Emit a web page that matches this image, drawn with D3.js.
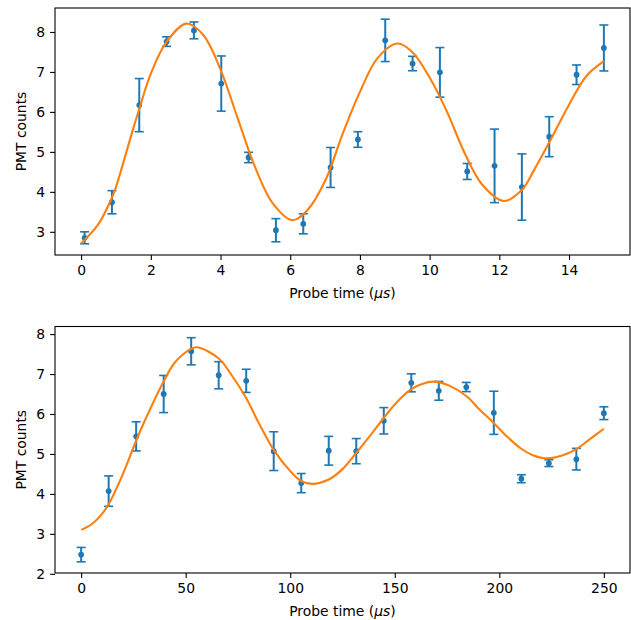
<!DOCTYPE html>
<html><head><meta charset="utf-8">
<script src="https://cdn.jsdelivr.net/npm/d3@7"></script>
<style>body{margin:0;background:#fff}svg{display:block}</style>
</head><body>
<svg id="c" width="631" height="620"></svg>
<script>
// ---- Top panel data ----
const topTimes = [0.1, 0.884, 1.668, 2.453, 3.237, 4.021, 4.805, 5.589, 6.374, 7.158, 7.942, 8.726, 9.511, 10.295, 11.079, 11.863, 12.647, 13.432, 14.216, 15.0];
const topCounts = [2.85, 3.74, 6.17, 7.76, 8.04, 6.71, 4.86, 3.04, 3.2, 4.61, 5.31, 7.79, 7.21, 6.99, 4.51, 4.65, 4.12, 5.38, 6.93, 7.6];
const topErrors = [0.15, 0.29, 0.665, 0.12, 0.21, 0.69, 0.13, 0.29, 0.25, 0.5, 0.195, 0.53, 0.18, 0.62, 0.2, 0.92, 0.83, 0.5, 0.245, 0.575];
const topFitTimes = [0, 0.5, 0.88, 1.0, 1.5, 1.67, 2.0, 2.45, 3.02, 3.5, 4.0, 4.5, 5.0, 5.5, 6.06, 6.5, 7.0, 7.5, 8.0, 8.5, 9.08, 9.5, 10.0, 10.5, 11.0, 11.5, 12.13, 12.65, 13.0, 13.5, 14.0, 14.5, 15.0];
const topFitCounts = [2.71, 3.2, 3.85, 4.12, 5.6, 6.08, 6.96, 7.75, 8.21, 7.93, 7.06, 5.82, 4.6, 3.71, 3.29, 3.55, 4.27, 5.44, 6.5, 7.34, 7.71, 7.5, 6.86, 6.0, 4.98, 4.19, 3.77, 4.05, 4.55, 5.35, 6.18, 6.9, 7.27];
const topXTicks = [0, 2, 4, 6, 8, 10, 12, 14];
const topYTicks = [3, 4, 5, 6, 7, 8];

// ---- Bottom panel data ----
const botTimes = [0, 13.158, 26.316, 39.474, 52.632, 65.789, 78.947, 92.105, 105.263, 118.421, 131.579, 144.737, 157.895, 171.053, 184.211, 197.368, 210.526, 223.684, 236.842, 250];
const botCounts = [2.48, 4.07, 5.44, 6.5, 7.57, 6.97, 6.83, 5.07, 4.27, 5.08, 5.07, 5.83, 6.78, 6.58, 6.675, 6.03, 4.38, 4.77, 4.87, 6.02];
const botErrors = [0.18, 0.38, 0.365, 0.465, 0.34, 0.34, 0.29, 0.485, 0.24, 0.36, 0.315, 0.33, 0.225, 0.235, 0.115, 0.54, 0.1, 0.085, 0.27, 0.16];
const botFitTimes = [0, 5, 10, 13.16, 20, 26.3, 30, 39.5, 45, 52.6, 55.6, 65.8, 72, 78.9, 85, 92.1, 100, 105.3, 110.6, 118.4, 125, 131.6, 140, 144.7, 150, 157.9, 163, 168.5, 176, 184.2, 190, 197.4, 204, 210.5, 216, 223, 230, 236.8, 243, 250];
const botFitCounts = [3.1, 3.24, 3.5, 3.74, 4.5, 5.33, 5.78, 6.82, 7.3, 7.63, 7.67, 7.39, 6.97, 6.4, 5.77, 5.1, 4.57, 4.32, 4.25, 4.36, 4.62, 5.03, 5.58, 5.9, 6.24, 6.62, 6.75, 6.81, 6.71, 6.45, 6.14, 5.77, 5.42, 5.13, 4.97, 4.89, 4.96, 5.12, 5.36, 5.63];
const botXTicks = [0, 50, 100, 150, 200, 250];
const botYTicks = [2, 3, 4, 5, 6, 7, 8];

const BLUE = "#1f77b4", ORANGE = "#ff7f0e";
const FONT = "DejaVu Sans";
const svg = d3.select("#c");

function panel(cfg) {
  const x = d3.scaleLinear().domain(cfg.xDomain).range([55, 630]);
  const y = d3.scaleLinear().domain(cfg.yDomain).range([cfg.bottom, cfg.top]);
  const g = svg.append("g");

  // error bars
  const eb = g.append("g").attr("stroke", BLUE).attr("stroke-width", 2).attr("fill", "none");
  cfg.t.forEach((t, i) => {
    const cx = x(t), lo = y(cfg.v[i] - cfg.e[i]), hi = y(cfg.v[i] + cfg.e[i]);
    eb.append("line").attr("x1", cx).attr("x2", cx).attr("y1", lo).attr("y2", hi);
    eb.append("line").attr("x1", cx - 4.5).attr("x2", cx + 4.5).attr("y1", lo).attr("y2", lo).attr("stroke-width", 1.6);
    eb.append("line").attr("x1", cx - 4.5).attr("x2", cx + 4.5).attr("y1", hi).attr("y2", hi).attr("stroke-width", 1.6);
  });
  g.append("g").selectAll("circle").data(cfg.t).join("circle")
    .attr("cx", d => x(d)).attr("cy", (d, i) => y(cfg.v[i])).attr("r", 2.9).attr("fill", BLUE);

  // fit line
  const line = d3.line().x(d => x(d[0])).y(d => y(d[1])).curve(d3.curveCatmullRom.alpha(0.5));
  g.append("path").datum(cfg.ft.map((t, i) => [t, cfg.fv[i]]))
    .attr("d", line).attr("fill", "none").attr("stroke", ORANGE).attr("stroke-width", 2.1)
    .attr("stroke-linejoin", "round");

  // axes
  const xa = g.append("g").attr("transform", `translate(0,${cfg.bottom})`)
    .call(d3.axisBottom(x).tickValues(cfg.xt).tickSize(4.9).tickPadding(4.9).tickFormat(d3.format("d")));
  const ya = g.append("g").attr("transform", `translate(55,0)`)
    .call(d3.axisLeft(y).tickValues(cfg.yt).tickSize(4.9).tickPadding(4.9).tickFormat(d3.format("d")));
  [xa, ya].forEach(a => {
    a.select(".domain").remove();
    a.selectAll(".tick line").attr("stroke", "#000").attr("stroke-width", 1.1);
    a.selectAll(".tick text").attr("font-family", FONT).attr("font-size", 13.9).attr("fill", "#000");
  });
  // frame
  g.append("rect").attr("x", 55).attr("y", cfg.top).attr("width", 575).attr("height", cfg.bottom - cfg.top)
    .attr("fill", "none").attr("stroke", "#000").attr("stroke-width", 1.1);

  // labels
  const xl = g.append("text").attr("x", (55 + 630) / 2).attr("y", cfg.bottom + 42.5)
    .attr("text-anchor", "middle").attr("font-family", FONT).attr("font-size", 13.9).attr("fill", "#000");
  xl.append("tspan").text("Probe time (");
  xl.append("tspan").attr("font-style", "italic").text("μs");
  xl.append("tspan").text(")");
  g.append("text").attr("transform", `translate(26,${(cfg.top + cfg.bottom) / 2}) rotate(-90)`)
    .attr("text-anchor", "middle").attr("font-family", FONT).attr("font-size", 13.9).attr("fill", "#000")
    .text("PMT counts");
}

panel({ xDomain: [-0.75, 15.75], yDomain: [2.42, 8.60], top: 8, bottom: 255,
  t: topTimes, v: topCounts, e: topErrors, ft: topFitTimes, fv: topFitCounts, xt: topXTicks, yt: topYTicks });
panel({ xDomain: [-12.5, 262.5], yDomain: [2.02, 8.19], top: 326.5, bottom: 573,
  t: botTimes, v: botCounts, e: botErrors, ft: botFitTimes, fv: botFitCounts, xt: botXTicks, yt: botYTicks });
</script>
</body></html>
